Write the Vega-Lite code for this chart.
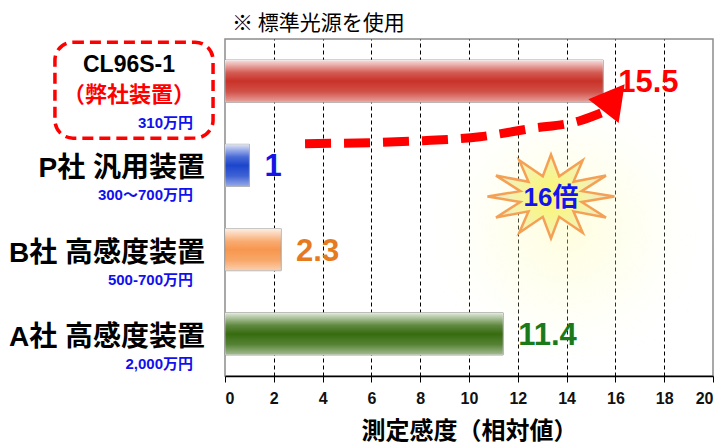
{
  "$schema": "https://vega.github.io/schema/vega-lite/v6.json",
  "width": 488,
  "height": 337,
  "autosize": {"type": "none"},
  "padding": {"left": 225, "top": 39, "right": 10, "bottom": 72},
  "background": "white",
  "title": {"text": "※ 標準光源を使用", "anchor": "start", "frame": "group", "dx": 7, "fontSize": 21, "fontWeight": "normal", "font": "Noto Sans CJK JP", "color": "#000", "offset": 5},
  "config": {
    "view": {"stroke": "#8c8c8c", "strokeWidth": 1.5},
    "axisX": {
      "gridDash": [4, 3], "gridColor": "#000", "gridWidth": 1,
      "domainColor": "#000", "domainWidth": 1.5, "tickColor": "#000", "tickSize": 6,
      "labelFont": "Liberation Sans", "labelFontWeight": "bold", "labelFontSize": 16, "labelColor": "#111", "labelPadding": 8,
      "titleFont": "Noto Sans CJK JP", "titleFontSize": 24, "titleFontWeight": "bold", "titlePadding": 13, "titleColor": "#000"
    }
  },
  "datasets": {
    "devices": [
      {"device": "CL96S-1", "note": "（弊社装置）", "price": "310万円", "value": 15.5},
      {"device": "P社 汎用装置", "note": "", "price": "300～700万円", "value": 1},
      {"device": "B社 高感度装置", "note": "", "price": "500-700万円", "value": 2.3},
      {"device": "A社 高感度装置", "note": "", "price": "2,000万円", "value": 11.4}
    ],
    "arrow": [
      {"x": 3.28, "ry": 1.243, "o": 1},
      {"x": 8.11, "ry": 1.207, "o": 2},
      {"x": 10.45, "ry": 1.16, "o": 3},
      {"x": 12.5, "ry": 1.065, "o": 4},
      {"x": 14.55, "ry": 0.97, "o": 5},
      {"x": 15.49, "ry": 0.87, "o": 6}
    ],
    "head": [{"x": 15.8, "ry": 0.75}],
    "burst": [{"x": 13.36, "ry": 1.87, "label": "16倍"}],
    "glow": [{"x": 14.0, "ry": 2.1}]
  },
  "layer": [
    {
      "data": {"name": "glow"},
      "mark": {"type": "point", "shape": "M-1,-0.85L1,-0.85L1,1L-1,1Z", "size": 90000, "filled": true, "opacity": 1, "strokeWidth": 0,
        "fill": {"gradient": "radial", "stops": [{"offset": 0, "color": "rgba(255,252,170,0.4)"}, {"offset": 0.5, "color": "rgba(255,253,200,0.22)"}, {"offset": 1, "color": "rgba(255,255,255,0)"}]}},
      "encoding": {
        "x": {"field": "x", "type": "quantitative", "scale": {"domain": [0, 20], "nice": false}, "title": "測定感度（相対値）"},
        "y": {"field": "ry", "type": "quantitative", "scale": {"domain": [0, 4], "reverse": true, "nice": false, "zero": false}, "axis": null}
      }
    },
    {
      "data": {"name": "devices"},
      "resolve": {"scale": {"color": "independent"}},
      "layer": [
        {
          "mark": {"type": "bar", "stroke": "#9a9a9a", "strokeWidth": 1},
          "encoding": {
            "y": {"field": "device", "type": "nominal", "sort": null, "scale": {"domain": ["CL96S-1", "P社 汎用装置", "B社 高感度装置", "A社 高感度装置"], "paddingInner": 0.5, "paddingOuter": 0.25}, "axis": null},
            "x": {"field": "value", "type": "quantitative", "scale": {"domain": [0, 20], "nice": false},
              "axis": {"values": [0, 2, 4, 6, 8, 10, 12, 14, 16, 18, 20], "grid": true,
                "gridOpacity": {"condition": {"test": "datum.value == 0 || datum.value == 20", "value": 0}, "value": 1}},
              "title": "測定感度（相対値）"},
            "color": {"field": "device", "type": "nominal", "scale": {"domain": ["CL96S-1", "P社 汎用装置", "B社 高感度装置", "A社 高感度装置"], "range": ["#c93228", "#1c46cc", "#f7974f", "#376c10"]}, "legend": null}
          }
        },
        {
          "mark": {"type": "bar", "strokeWidth": 0,
            "fill": {"gradient": "linear", "x1": 0, "y1": 0, "x2": 0, "y2": 1, "stops": [
              {"offset": 0, "color": "rgba(255,255,255,0.85)"},
              {"offset": 0.3, "color": "rgba(255,255,255,0.2)"},
              {"offset": 0.5, "color": "rgba(255,255,255,0)"},
              {"offset": 0.75, "color": "rgba(255,255,255,0.15)"},
              {"offset": 1, "color": "rgba(255,255,255,0.55)"}]}},
          "encoding": {
            "y": {"field": "device", "type": "nominal", "sort": null, "scale": {"domain": ["CL96S-1", "P社 汎用装置", "B社 高感度装置", "A社 高感度装置"], "paddingInner": 0.5, "paddingOuter": 0.25}, "axis": null},
            "x": {"field": "value", "type": "quantitative", "scale": {"domain": [0, 20], "nice": false}, "title": "測定感度（相対値）"}
          }
        },
        {
          "mark": {"type": "text", "align": "left", "baseline": "middle", "dx": 15, "dy": 2, "fontSize": 31, "fontWeight": "bold", "font": "Liberation Sans"},
          "encoding": {
            "y": {"field": "device", "type": "nominal", "sort": null, "scale": {"domain": ["CL96S-1", "P社 汎用装置", "B社 高感度装置", "A社 高感度装置"], "paddingInner": 0.5, "paddingOuter": 0.25}, "axis": null},
            "x": {"field": "value", "type": "quantitative", "scale": {"domain": [0, 20], "nice": false}, "title": "測定感度（相対値）"},
            "text": {"field": "value", "type": "quantitative"},
            "color": {"field": "device", "type": "nominal", "scale": {"domain": ["CL96S-1", "P社 汎用装置", "B社 高感度装置", "A社 高感度装置"], "range": ["#ff0000", "#1414e6", "#e57a1f", "#1a7a1a"]}, "legend": null}
          }
        },
        {
          "transform": [{"filter": "datum.device != 'CL96S-1'"}],
          "mark": {"type": "text", "align": "right", "baseline": "middle", "dx": -20, "dy": 4, "fontSize": 28, "fontWeight": "bold", "font": "Liberation Sans, Noto Sans CJK JP", "color": "#000"},
          "encoding": {
            "y": {"field": "device", "type": "nominal", "sort": null, "scale": {"domain": ["CL96S-1", "P社 汎用装置", "B社 高感度装置", "A社 高感度装置"], "paddingInner": 0.5, "paddingOuter": 0.25}, "axis": null},
            "x": {"datum": 0, "type": "quantitative", "scale": {"domain": [0, 20], "nice": false}, "title": "測定感度（相対値）"},
            "text": {"field": "device"}
          }
        },
        {
          "transform": [{"filter": "datum.device != 'CL96S-1'"}],
          "mark": {"type": "text", "align": "right", "baseline": "middle", "dx": -32, "dy": 30, "fontSize": 15, "fontWeight": "bold", "font": "Liberation Sans, Noto Sans CJK JP", "color": "#1010ee"},
          "encoding": {
            "y": {"field": "device", "type": "nominal", "sort": null, "scale": {"domain": ["CL96S-1", "P社 汎用装置", "B社 高感度装置", "A社 高感度装置"], "paddingInner": 0.5, "paddingOuter": 0.25}, "axis": null},
            "x": {"datum": 0, "type": "quantitative", "scale": {"domain": [0, 20], "nice": false}, "title": "測定感度（相対値）"},
            "text": {"field": "price"}
          }
        },
        {
          "transform": [{"filter": "datum.device == 'CL96S-1'"}],
          "mark": {"type": "text", "align": "right", "baseline": "middle", "dx": -32, "dy": 42, "fontSize": 15, "fontWeight": "bold", "font": "Liberation Sans, Noto Sans CJK JP", "color": "#1010ee"},
          "encoding": {
            "y": {"field": "device", "type": "nominal", "sort": null, "scale": {"domain": ["CL96S-1", "P社 汎用装置", "B社 高感度装置", "A社 高感度装置"], "paddingInner": 0.5, "paddingOuter": 0.25}, "axis": null},
            "x": {"datum": 0, "type": "quantitative", "scale": {"domain": [0, 20], "nice": false}, "title": "測定感度（相対値）"},
            "text": {"field": "price"}
          }
        },
        {
          "transform": [{"filter": "datum.device == 'CL96S-1'"}],
          "mark": {"type": "text", "align": "center", "baseline": "middle", "dx": -96, "dy": -16, "fontSize": 23, "fontWeight": "bold", "font": "Liberation Sans", "color": "#000"},
          "encoding": {
            "y": {"field": "device", "type": "nominal", "sort": null, "scale": {"domain": ["CL96S-1", "P社 汎用装置", "B社 高感度装置", "A社 高感度装置"], "paddingInner": 0.5, "paddingOuter": 0.25}, "axis": null},
            "x": {"datum": 0, "type": "quantitative", "scale": {"domain": [0, 20], "nice": false}, "title": "測定感度（相対値）"},
            "text": {"field": "device"}
          }
        },
        {
          "transform": [{"filter": "datum.device == 'CL96S-1'"}],
          "mark": {"type": "text", "align": "center", "baseline": "middle", "dx": -96, "dy": 14, "fontSize": 22, "fontWeight": "bold", "font": "Noto Sans CJK JP", "color": "#ff0000"},
          "encoding": {
            "y": {"field": "device", "type": "nominal", "sort": null, "scale": {"domain": ["CL96S-1", "P社 汎用装置", "B社 高感度装置", "A社 高感度装置"], "paddingInner": 0.5, "paddingOuter": 0.25}, "axis": null},
            "x": {"datum": 0, "type": "quantitative", "scale": {"domain": [0, 20], "nice": false}, "title": "測定感度（相対値）"},
            "text": {"field": "note"}
          }
        },
        {
          "transform": [{"filter": "datum.device == 'CL96S-1'"}],
          "mark": {"type": "bar", "height": 96, "yOffset": 9, "cornerRadius": 18, "fill": "white", "fillOpacity": 0, "stroke": "#ff0000", "strokeWidth": 3.5, "strokeDash": [11, 6]},
          "encoding": {
            "y": {"field": "device", "type": "nominal", "sort": null, "scale": {"domain": ["CL96S-1", "P社 汎用装置", "B社 高感度装置", "A社 高感度装置"], "paddingInner": 0.5, "paddingOuter": 0.25}, "axis": null},
            "x": {"datum": -6.97, "type": "quantitative", "scale": {"domain": [0, 20], "nice": false}, "title": "測定感度（相対値）"},
            "x2": {"datum": -0.49}
          }
        }
      ]
    },
    {
      "layer": [
        {
          "data": {"name": "arrow"},
          "mark": {"type": "line", "color": "#ff0000", "strokeWidth": 9, "strokeDash": [26, 13], "interpolate": "monotone", "strokeCap": "butt"},
          "encoding": {
            "x": {"field": "x", "type": "quantitative", "scale": {"domain": [0, 20], "nice": false}, "title": "測定感度（相対値）"},
            "y": {"field": "ry", "type": "quantitative", "scale": {"domain": [0, 4], "reverse": true, "nice": false, "zero": false}, "axis": null},
            "order": {"field": "o"}
          }
        },
        {
          "data": {"name": "head"},
          "mark": {"type": "point", "shape": "M0,-1L0.84,0.5L-0.84,0.5Z", "size": 2100, "angle": 38, "filled": true, "fill": "#ff0000", "opacity": 1, "strokeWidth": 0},
          "encoding": {
            "x": {"field": "x", "type": "quantitative", "scale": {"domain": [0, 20], "nice": false}, "title": "測定感度（相対値）"},
            "y": {"field": "ry", "type": "quantitative", "scale": {"domain": [0, 4], "reverse": true, "nice": false, "zero": false}, "axis": null}
          }
        },
        {
          "data": {"name": "burst"},
          "mark": {"type": "point", "shape": "M1,0L0.483,0.085L0.866,0.33L0.354,0.233L0.5,0.572L0.129,0.319L0,0.66L-0.129,0.319L-0.5,0.572L-0.354,0.233L-0.866,0.33L-0.483,0.085L-1,0L-0.483,-0.085L-0.866,-0.33L-0.354,-0.233L-0.5,-0.572L-0.129,-0.319L0,-0.66L0.129,-0.319L0.5,-0.572L0.354,-0.233L0.866,-0.33L0.483,-0.085Z",
            "size": 16129, "filled": true, "opacity": 1, "stroke": "#f5a155", "strokeWidth": 2.5,
            "fill": {"gradient": "radial", "stops": [{"offset": 0, "color": "#fbf76a"}, {"offset": 0.6, "color": "#f4f2b0"}, {"offset": 1, "color": "#e4e2d8"}]}},
          "encoding": {
            "x": {"field": "x", "type": "quantitative", "scale": {"domain": [0, 20], "nice": false}, "title": "測定感度（相対値）"},
            "y": {"field": "ry", "type": "quantitative", "scale": {"domain": [0, 4], "reverse": true, "nice": false, "zero": false}, "axis": null}
          }
        },
        {
          "data": {"name": "burst"},
          "mark": {"type": "text", "align": "center", "baseline": "middle", "dy": 1, "fontSize": 26, "fontWeight": "bold", "font": "Liberation Sans, Noto Sans CJK JP", "color": "#1414ee"},
          "encoding": {
            "x": {"field": "x", "type": "quantitative", "scale": {"domain": [0, 20], "nice": false}, "title": "測定感度（相対値）"},
            "y": {"field": "ry", "type": "quantitative", "scale": {"domain": [0, 4], "reverse": true, "nice": false, "zero": false}, "axis": null},
            "text": {"field": "label"}
          }
        }
      ]
    }
  ],
  "resolve": {"scale": {"y": "independent"}}
}
